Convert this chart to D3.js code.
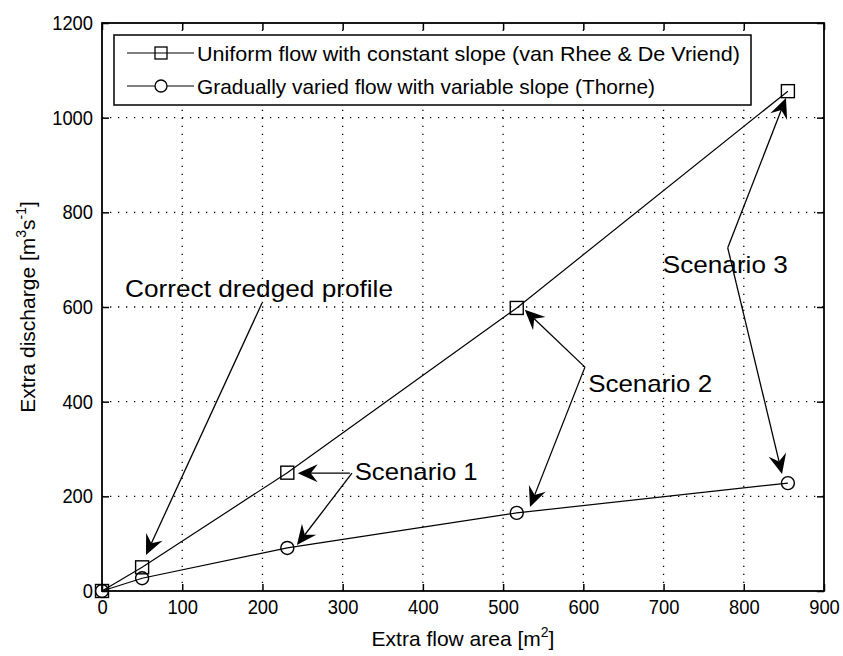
<!DOCTYPE html>
<html>
<head>
<meta charset="utf-8">
<script src="https://cdn.jsdelivr.net/npm/d3@7"></script>
<style>
  html, body { margin: 0; padding: 0; background: #fff; }
  svg { display: block; }
  text { font-family: "Liberation Sans", Arial, Helvetica, sans-serif; fill: #000; }
  .narrow { font-family: "Liberation Sans Narrow", "Liberation Sans", Arial, sans-serif; }
</style>
</head>
<body>
<svg id="chart" width="843" height="656"></svg>
<script>
// ---- data ----
const xTicks = [0, 100, 200, 300, 400, 500, 600, 700, 800, 900];
const yTicks = [0, 200, 400, 600, 800, 1000, 1200];
const uniformArea = [0, 50, 231, 517, 855];
const uniformDischarge = [0, 50, 250, 598, 1056];
const gvfArea = [0, 50, 231, 517, 855];
const gvfDischarge = [0, 27, 91, 165, 228];
const seriesNames = [
  "Uniform flow with constant slope (van Rhee & De Vriend)",
  "Gradually varied flow with variable slope (Thorne)"
];
// annotation labels (positions in data units)
const annoLabels = ["Correct dredged profile", "Scenario 1", "Scenario 2", "Scenario 3"];
const annoLabelX = [28.7, 315, 606, 699];
const annoLabelY = [621, 234, 420, 672];
// arrows: start (x0,y0) -> tip (x1,y1), data units
const arrowX0 = [199.5, 309, 311.6, 602, 602, 780, 780];
const arrowY0 = [608.5, 249, 249, 473, 473, 725, 725];
const arrowX1 = [54.8, 244, 243, 527, 533.5, 852.6, 847.7];
const arrowY1 = [76, 249, 97, 594, 177.5, 1041.6, 247];

// ---- layout ----
const L = 102, R = 824, T = 23, B = 591;
const svg = d3.select("#chart");
const x = d3.scaleLinear().domain([0, 900]).range([L, R]);
const y = d3.scaleLinear().domain([0, 1200]).range([B, T]);

// grid (dotted)
const grid = svg.append("g");
grid.selectAll(".gx").data(xTicks.filter(d => d > 0 && d < 900)).enter().append("line")
  .attr("x1", d => x(d)).attr("x2", d => x(d)).attr("y1", B).attr("y2", T)
  .attr("stroke", "#000").attr("stroke-width", 1.3).attr("stroke-dasharray", "1.3,6.7");
grid.selectAll(".gy").data(yTicks.filter(d => d > 0 && d < 1200)).enter().append("line")
  .attr("y1", d => y(d)).attr("y2", d => y(d)).attr("x1", L).attr("x2", R)
  .attr("stroke", "#000").attr("stroke-width", 1.3).attr("stroke-dasharray", "1.3,6.7");

// axes with inward ticks
const tickLen = 7;
const xAxisB = d3.axisBottom(x).tickValues(xTicks).tickSize(-tickLen).tickPadding(9).tickFormat(d3.format("d"));
const xAxisT = d3.axisTop(x).tickValues(xTicks).tickSize(-tickLen).tickFormat("");
const yAxisL = d3.axisLeft(y).tickValues(yTicks).tickSize(-tickLen).tickPadding(9).tickFormat(d3.format("d"));
const yAxisR = d3.axisRight(y).tickValues(yTicks).tickSize(-tickLen).tickFormat("");

function styleAxis(g) {
  g.select(".domain").remove();
  g.selectAll("line").attr("stroke", "#000").attr("stroke-width", 1.5);
  g.selectAll("text").attr("font-size", 20).attr("fill", "#000").attr("class", "narrow")
    .attr("font-family", null);
}
svg.append("g").attr("transform", `translate(0,${B})`).call(xAxisB).call(styleAxis)
  .selectAll("text").attr("dy", "0.71em");
svg.append("g").attr("transform", `translate(0,${T})`).call(xAxisT).call(styleAxis);
svg.append("g").attr("transform", `translate(${L},0)`).call(yAxisL).call(styleAxis);
svg.append("g").attr("transform", `translate(${R},0)`).call(yAxisR).call(styleAxis);
svg.selectAll(".tick text").attr("textLength", function() {
  return this.textContent.length * 10.2;
}).attr("lengthAdjust", "spacingAndGlyphs");

// box
svg.append("rect").attr("x", L).attr("y", T).attr("width", R - L).attr("height", B - T)
  .attr("fill", "none").attr("stroke", "#000").attr("stroke-width", 1.8);

// data lines
const line = d3.line().x(d => x(d[0])).y(d => y(d[1]));
const uni = uniformArea.map((a, i) => [a, uniformDischarge[i]]);
const gvf = gvfArea.map((a, i) => [a, gvfDischarge[i]]);
svg.append("path").datum(uni).attr("d", line).attr("fill", "none").attr("stroke", "#000").attr("stroke-width", 1.2);
svg.append("path").datum(gvf).attr("d", line).attr("fill", "none").attr("stroke", "#000").attr("stroke-width", 1.2);
const ms = 13;
svg.selectAll(".sq").data(uni).enter().append("rect")
  .attr("x", d => x(d[0]) - ms / 2).attr("y", d => y(d[1]) - ms / 2)
  .attr("width", ms).attr("height", ms).attr("fill", "none").attr("stroke", "#000").attr("stroke-width", 1.4);
svg.selectAll(".ci").data(gvf).enter().append("circle")
  .attr("cx", d => x(d[0])).attr("cy", d => y(d[1])).attr("r", 6.5)
  .attr("fill", "none").attr("stroke", "#000").attr("stroke-width", 1.4);

// annotation arrows
function arrow(x0, y0, x1, y1) {
  const g = svg.append("g");
  const dx = x1 - x0, dy = y1 - y0, len = Math.hypot(dx, dy);
  const ux = dx / len, uy = dy / len, px = -uy, py = ux;
  const hl = 20, hw = 9, back = 13;
  g.append("line").attr("x1", x0).attr("y1", y0).attr("x2", x1 - ux * back).attr("y2", y1 - uy * back)
    .attr("stroke", "#000").attr("stroke-width", 1.3);
  const pts = [
    [x1, y1],
    [x1 - ux * hl + px * hw, y1 - uy * hl + py * hw],
    [x1 - ux * back, y1 - uy * back],
    [x1 - ux * hl - px * hw, y1 - uy * hl - py * hw]
  ];
  g.append("path").attr("d", "M" + pts.map(p => p.join(",")).join("L") + "Z").attr("fill", "#000");
}
arrowX0.forEach((_, i) => arrow(x(arrowX0[i]), y(arrowY0[i]), x(arrowX1[i]), y(arrowY1[i])));

// annotation labels
const annoWidths = [268, 123, 124, 125];
annoLabels.forEach((t, i) => {
  svg.append("text").attr("x", x(annoLabelX[i])).attr("y", y(annoLabelY[i]))
    .attr("font-size", 24).attr("textLength", annoWidths[i]).attr("lengthAdjust", "spacingAndGlyphs")
    .text(t);
});

// legend
const lg = svg.append("g");
lg.append("rect").attr("x", 114).attr("y", 35).attr("width", 637).attr("height", 70)
  .attr("fill", "#fff").attr("stroke", "#000").attr("stroke-width", 1.5);
const rowsY = [53, 86];
const legendW = [543, 458];
seriesNames.forEach((name, i) => {
  lg.append("line").attr("x1", 127).attr("x2", 194).attr("y1", rowsY[i]).attr("y2", rowsY[i])
    .attr("stroke", "#000").attr("stroke-width", 1.2);
  if (i === 0) {
    lg.append("rect").attr("x", 161 - 6).attr("y", rowsY[i] - 6).attr("width", 12).attr("height", 12)
      .attr("fill", "none").attr("stroke", "#000").attr("stroke-width", 1.3);
  } else {
    lg.append("circle").attr("cx", 161).attr("cy", rowsY[i]).attr("r", 6)
      .attr("fill", "#fff").attr("stroke", "#000").attr("stroke-width", 1.3);
  }
  lg.append("text").attr("class", "narrow").attr("x", 197).attr("y", rowsY[i] + 8).attr("font-size", 21)
    .attr("textLength", legendW[i]).attr("lengthAdjust", "spacingAndGlyphs").text(name);
});

// axis labels
const xl = svg.append("text").attr("class", "narrow").attr("x", (L + R) / 2).attr("y", 646).attr("font-size", 21)
  .attr("text-anchor", "middle");
xl.append("tspan").text("Extra flow area [m");
xl.append("tspan").attr("font-size", 14).attr("dy", -9).text("2");
xl.append("tspan").attr("dy", 9).text("]");

const yl = svg.append("text").attr("class", "narrow").attr("transform", `translate(35,${(T + B) / 2}) rotate(-90)`)
  .attr("font-size", 21).attr("text-anchor", "middle");
yl.append("tspan").text("Extra discharge [m");
yl.append("tspan").attr("font-size", 14).attr("dy", -9).text("3");
yl.append("tspan").attr("dy", 9).text("s");
yl.append("tspan").attr("font-size", 14).attr("dy", -9).text("-1");
yl.append("tspan").attr("dy", 9).text("]");
</script>
</body>
</html>
